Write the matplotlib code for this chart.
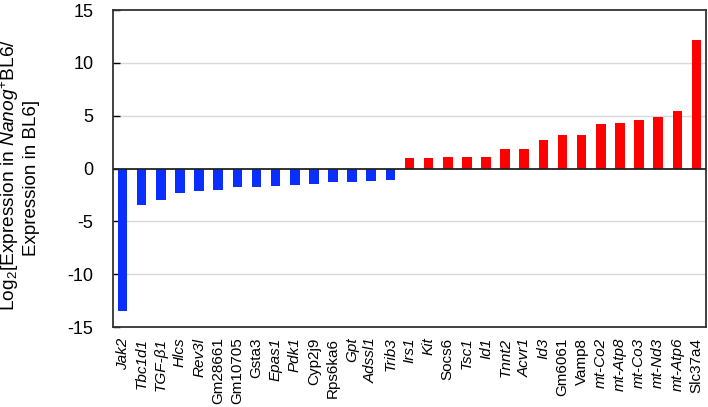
import matplotlib.pyplot as plt
import numpy as np

plt.rcParams['font.family'] = ['Liberation Sans', 'DejaVu Sans']
plt.rcParams['mathtext.fontset'] = 'custom'
plt.rcParams['mathtext.rm'] = 'Liberation Sans'
plt.rcParams['mathtext.it'] = 'Liberation Sans:italic'

# data
down_genes = ['Jak2', 'Tbc1d1', 'TGF-β1', 'Hlcs', 'Rev3l', 'Gm28661', 'Gm10705', 'Gsta3',
              'Epas1', 'Pdk1', 'Cyp2j9', 'Rps6ka6', 'Gpt', 'Adssl1', 'Trib3']
down_vals = [-13.5, -3.5, -3.0, -2.35, -2.1, -2.0, -1.77, -1.74,
             -1.63, -1.57, -1.5, -1.28, -1.28, -1.17, -1.05]
up_genes = ['Irs1', 'Kit', 'Socs6', 'Tsc1', 'Id1', 'Tnnt2', 'Acvr1', 'Id3', 'Gm6061',
            'Vamp8', 'mt-Co2', 'mt-Atp8', 'mt-Co3', 'mt-Nd3', 'mt-Atp6', 'Slc37a4']
up_vals = [0.98, 1.03, 1.07, 1.07, 1.1, 1.83, 1.86, 2.68, 3.15,
           3.2, 4.2, 4.35, 4.57, 4.88, 5.48, 12.2]
upright = ['Gm28661', 'Gm10705', 'Gsta3', 'Cyp2j9', 'Rps6ka6', 'Socs6', 'Gm6061', 'Vamp8', 'Slc37a4']

genes = down_genes + up_genes
vals = down_vals + up_vals
colors = ['#0a2eff'] * len(down_genes) + ['#ff0000'] * len(up_genes)

fig = plt.figure(figsize=(7.08, 4.07), dpi=100)
ax = fig.add_axes([113/708, 1 - 327/407, (706-113)/708, (327-10)/407])

x = np.arange(len(genes))
ax.bar(x, vals, width=0.5, color=colors, zorder=3)
ax.axhline(0, color='#222222', lw=1.3, zorder=4)

ax.set_xlim(-0.5, len(genes) - 0.5)
ax.set_ylim(-15, 15)
ax.set_yticks([-15, -10, -5, 0, 5, 10, 15])
ax.set_yticklabels(['-15', '-10', '-5', '0', '5', '10', '15'], fontsize=13)
for yv in [-10, -5, 5, 10]:
    ax.axhline(yv, color='#d9d9d9', lw=1, zorder=1)
ax.tick_params(axis='y', direction='in', length=5, width=1, pad=14)
ax.set_xticks([])
for s in ax.spines.values():
    s.set_color('#333333')
    s.set_linewidth(1.3)

for i, g in enumerate(genes):
    style = 'normal' if g in upright else 'italic'
    ax.text(i, -16.0, g, rotation=90, ha='center', va='top', fontsize=11,
            fontstyle=style)

fig.text(10/708, 1 - 175/407, r'Log$_2$[Expression in $\it{Nanog}^{+}$BL6/',
         rotation=90, ha='center', va='center', fontsize=13.8)
fig.text(32/708, 1 - 178/407, 'Expression in BL6]',
         rotation=90, ha='center', va='center', fontsize=13.5)

fig.savefig('out.png', dpi=100)
